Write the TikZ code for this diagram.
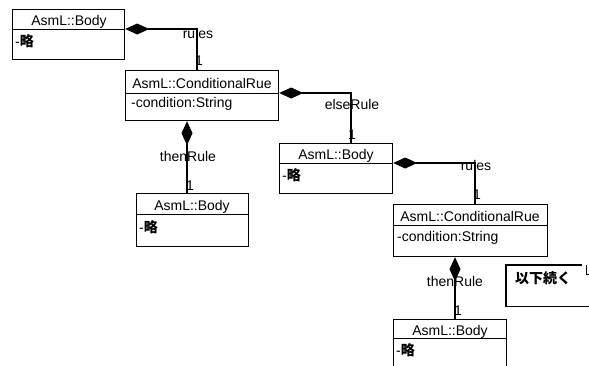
\documentclass[tikz,border=0pt]{standalone}
\usepackage{fontspec}
\setmainfont{Liberation Sans}
\newfontfamily\jp{Noto Sans CJK JP}
\usetikzlibrary{arrows.meta}
\tikzset{
  umlbox/.style={draw, line width=1.2pt, inner sep=0pt, anchor=north west},
  divline/.style={line width=1pt},
  ttl/.style={anchor=base, inner sep=0pt, font=\fontsize{14}{16}\selectfont},
  att/.style={anchor=base west, inner sep=0pt, font=\fontsize{14}{16}\selectfont},
  lbl/.style={anchor=base, inner sep=0pt, font=\fontsize{14}{16}\selectfont},
  conn/.style={line width=1.1pt, {Diamond[length=24pt,width=11pt]}-},
}
\begin{document}
\begin{tikzpicture}[x=1pt,y=-1pt]
\useasboundingbox (0,0) rectangle (589,365);
\fill[white] (0,0) rectangle (589,365);
\clip (0,0) rectangle (589,365);

% divider levels and connector bends
\coordinate (d1) at (0,29);
\coordinate (d2) at (0,93);
\coordinate (d3) at (0,163);
\coordinate (d4) at (0,214);
\coordinate (d5) at (0,225);
\coordinate (d6) at (0,338);
\coordinate (c1) at (197,29);
\coordinate (c2) at (351,93);
\coordinate (c3) at (187,0);
\coordinate (c4) at (475,163);
\coordinate (c5) at (455,0);

% labels (under the lines)
\node[lbl] (l1) at (198,38) {rules};
\node[lbl] (m1) at (199,65) {1};
\node[lbl] (l2) at (352,109) {elseRule};
\node[lbl] (m2) at (352,139) {1};
\node[lbl] (l3) at (188,161.5) {thenRule};
\node[lbl] (m3) at (190,190) {1};
\node[lbl] (l4) at (476,170.5) {rules};
\node[lbl] (m4) at (477,199) {1};
\node[lbl] (l5) at (455,286) {thenRule};
\node[lbl] (m5) at (458,315) {1};

% boxes
\node[umlbox, minimum width=112pt, minimum height=50pt] (b1) at (12,9) {};
\node[umlbox, minimum width=153pt, minimum height=50pt] (b2) at (125,70) {};
\node[umlbox, minimum width=113pt, minimum height=50pt] (b3) at (279,143) {};
\node[umlbox, minimum width=112pt, minimum height=53pt] (b4) at (136,193) {};
\node[umlbox, minimum width=154pt, minimum height=52pt] (b5) at (393,204) {};
\node[umlbox, minimum width=113pt, minimum height=60pt] (b6) at (393,319) {};

\draw[divline] (b1.west |- d1) -- (b1.east |- d1);
\draw[divline] (b2.west |- d2) -- (b2.east |- d2);
\draw[divline] (b3.west |- d3) -- (b3.east |- d3);
\draw[divline] (b4.west |- d4) -- (b4.east |- d4);
\draw[divline] (b5.west |- d5) -- (b5.east |- d5);
\draw[divline] (b6.west |- d6) -- (b6.east |- d6);

\node[ttl] (t1) at (69,25.5) {AsmL::Body};
\node[att] (a1) at (15,46.5) {-{\jp\bfseries 略}};
\node[ttl] (t2) at (202,88) {AsmL::ConditionalRue};
\node[att] (a2) at (131,107) {-condition:String};
\node[ttl] (t3) at (336,159.5) {AsmL::Body};
\node[att] (a3) at (282,180.5) {-{\jp\bfseries 略}};
\node[ttl] (t4) at (192,210.5) {AsmL::Body};
\node[att] (a4) at (139,232) {-{\jp\bfseries 略}};
\node[ttl] (t5) at (470,221) {AsmL::ConditionalRue};
\node[att] (a5) at (397,241) {-condition:String};
\node[ttl] (t6) at (450,335) {AsmL::Body};
\node[att] (a6) at (396,355.5) {-{\jp\bfseries 略}};

% connectors (composition)
\draw[conn] (b1.east |- d1) -- (c1) -- (b2.north -| c1);
\draw[conn] (b2.east |- d2) -- (c2) -- (b3.north -| c2);
\draw[conn] (b2.south -| c3) -- (b4.north -| c3);
\draw[conn] (b3.east |- d3) -- (c4) -- (b5.north -| c4);
\draw[conn] (b5.south -| c5) -- (b6.north -| c5);

% note
\node[anchor=north west, inner sep=0pt, minimum width=90pt, minimum height=41pt] (nb) at (506,265) {};
\coordinate (nf) at (582,265);
\draw[line width=1.1pt] (nf) -- (nb.north west) -- (nb.south west) -- (nb.south east);
\draw[line width=1pt] (586,265) -- (586,274) -- (592,274);
\node[att] (nt) at (515,283.5) {\jp\bfseries 以下続く};
\end{tikzpicture}
\end{document}
